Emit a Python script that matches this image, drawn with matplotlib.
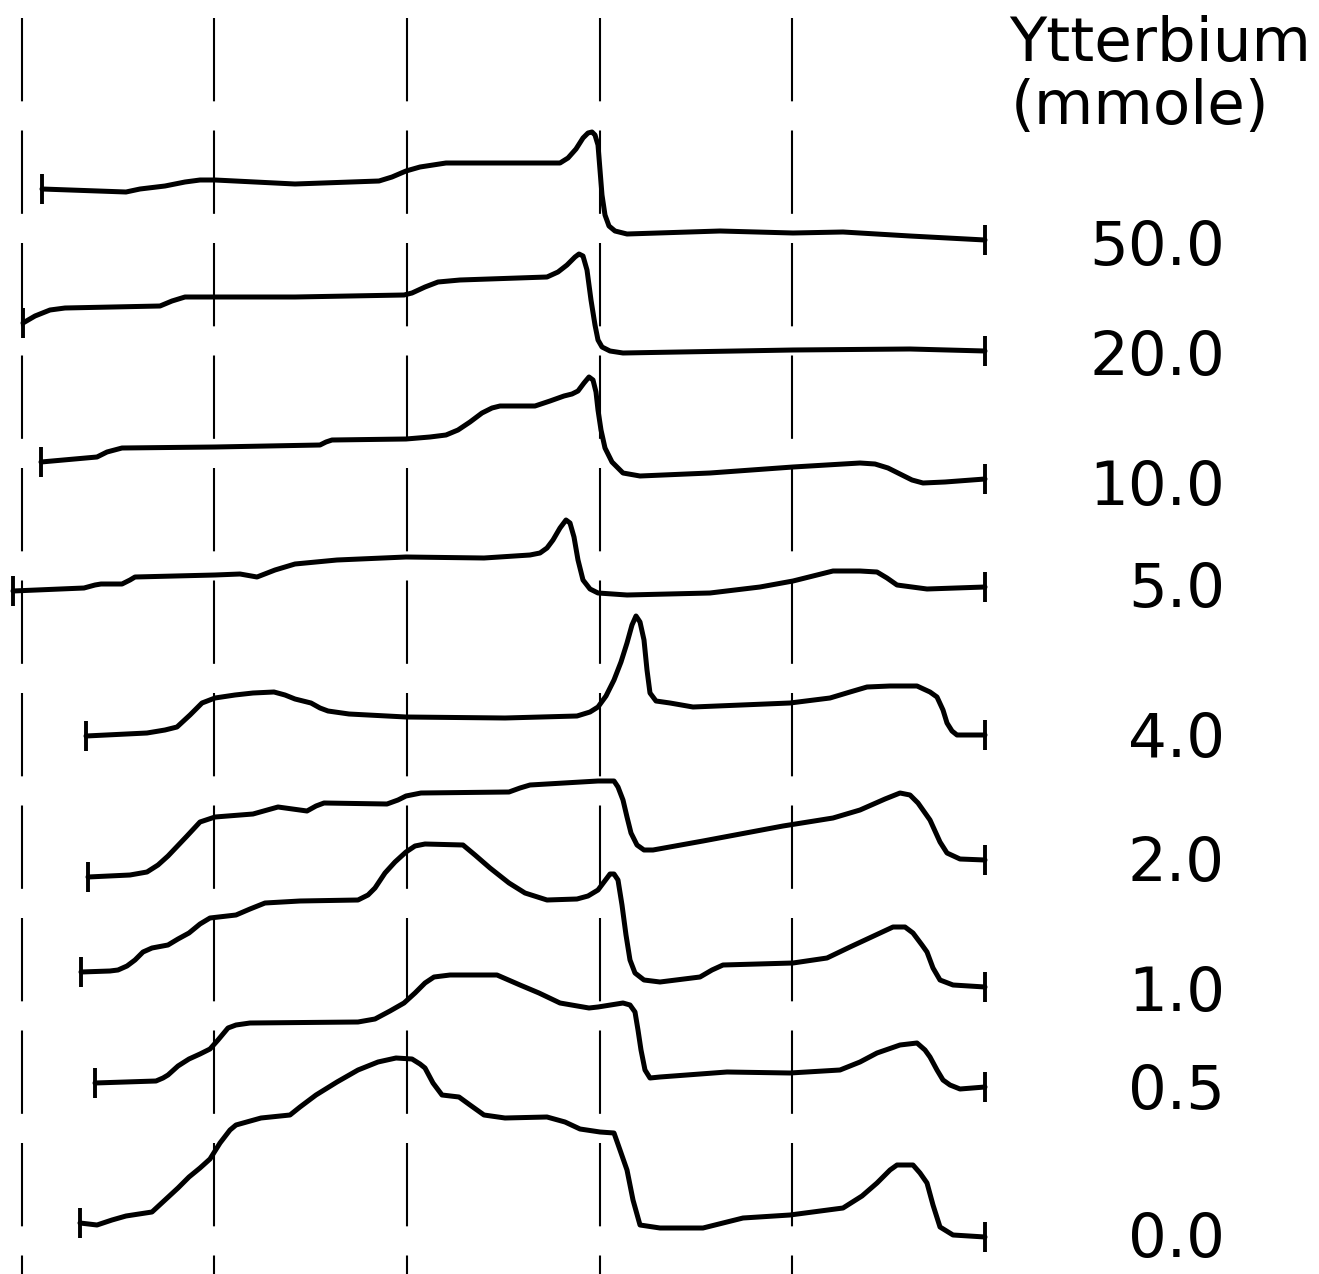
import matplotlib.pyplot as plt

# traces (pixel coords of the original figure, y grows downward)
x_50 = [42, 126, 140, 165, 185, 200, 215, 295, 379, 392, 406, 420, 446, 505, 560, 568, 576, 583, 588, 592, 595, 598, 600, 602, 605, 609, 615, 627, 720, 793, 843, 910, 985]
y_50 = [189, 192, 189, 186, 182, 180, 180, 184, 181, 177, 171, 167, 163, 163, 163, 158, 149, 138, 133, 132, 135, 145, 170, 195, 215, 226, 231, 234, 231, 233, 232, 236, 240]

x_20 = [23, 35, 50, 65, 160, 172, 185, 215, 295, 404, 412, 425, 438, 460, 547, 558, 567, 575, 579, 583, 587, 591, 595, 598, 602, 610, 623, 793, 910, 985]
y_20 = [323, 316, 310, 308, 306, 301, 297, 297, 297, 295, 293, 287, 282, 280, 277, 272, 265, 257, 254, 256, 270, 300, 325, 340, 347, 351, 353, 350, 349, 351]

x_10 = [41, 97, 107, 122, 215, 320, 326, 332, 406, 430, 446, 458, 470, 482, 492, 500, 535, 550, 564, 572, 578, 584, 589, 593, 596, 598, 601, 605, 612, 623, 640, 710, 793, 860, 875, 888, 900, 912, 923, 945, 985]
y_10 = [462, 457, 452, 448, 447, 445, 442, 440, 439, 437, 435, 430, 422, 413, 408, 406, 406, 401, 396, 394, 391, 383, 377, 380, 392, 410, 430, 448, 462, 473, 476, 473, 467, 463, 464, 468, 474, 480, 483, 482, 479]

x_5 = [13, 84, 95, 101, 122, 130, 135, 215, 240, 257, 275, 295, 337, 406, 484, 530, 540, 547, 553, 560, 566, 570, 574, 578, 583, 590, 598, 627, 710, 760, 793, 833, 860, 877, 887, 897, 927, 985]
y_5 = [591, 588, 585, 584, 584, 580, 577, 575, 574, 577, 570, 564, 560, 557, 558, 555, 553, 548, 540, 528, 520, 523, 537, 560, 580, 589, 593, 595, 593, 587, 581, 571, 571, 572, 578, 585, 589, 587]

x_4 = [86, 147, 165, 177, 190, 202, 215, 235, 253, 274, 285, 295, 311, 320, 328, 349, 406, 505, 577, 590, 598, 606, 614, 621, 627, 632, 636, 640, 644, 647, 650, 656, 670, 693, 790, 830, 850, 867, 890, 917, 930, 937, 943, 947, 952, 957, 985]
y_4 = [736, 733, 730, 727, 715, 703, 698, 695, 693, 692, 695, 699, 703, 708, 711, 714, 717, 718, 716, 712, 707, 696, 680, 662, 643, 625, 616, 622, 640, 670, 693, 701, 703, 707, 703, 698, 692, 687, 686, 686, 692, 697, 710, 723, 731, 735, 735]

x_2 = [88, 130, 147, 158, 168, 187, 200, 215, 253, 278, 307, 316, 324, 387, 398, 406, 421, 509, 520, 530, 598, 614, 618, 623, 627, 631, 637, 644, 653, 703, 783, 833, 860, 885, 900, 910, 918, 930, 940, 947, 960, 985]
y_2 = [877, 875, 872, 865, 856, 836, 822, 817, 814, 807, 811, 806, 803, 804, 800, 796, 793, 792, 788, 785, 781, 781, 787, 800, 817, 833, 845, 850, 850, 841, 826, 818, 810, 799, 793, 795, 803, 820, 842, 853, 859, 860]

x_1 = [81, 110, 118, 127, 135, 143, 152, 168, 178, 189, 200, 210, 236, 250, 265, 300, 358, 368, 375, 385, 395, 406, 415, 425, 463, 475, 490, 509, 525, 547, 577, 588, 598, 604, 610, 614, 618, 622, 626, 630, 635, 644, 660, 700, 712, 723, 793, 827, 850, 893, 905, 913, 922, 927, 933, 940, 953, 985]
y_1 = [972, 971, 970, 966, 960, 952, 948, 945, 939, 933, 924, 918, 915, 909, 903, 901, 900, 895, 888, 873, 862, 852, 846, 844, 845, 855, 868, 883, 893, 900, 899, 896, 890, 882, 874, 874, 880, 905, 935, 960, 973, 980, 982, 977, 970, 965, 963, 958, 947, 927, 927, 933, 945, 952, 968, 980, 985, 987]

x_05 = [95, 156, 163, 168, 178, 189, 200, 210, 218, 228, 236, 250, 358, 375, 390, 404, 415, 425, 434, 450, 497, 520, 539, 560, 589, 598, 623, 630, 635, 638, 641, 645, 650, 660, 727, 790, 840, 860, 877, 900, 917, 925, 930, 937, 943, 950, 960, 985]
y_05 = [1083, 1081, 1078, 1075, 1066, 1059, 1054, 1049, 1040, 1028, 1025, 1023, 1022, 1019, 1011, 1003, 993, 983, 977, 975, 975, 985, 993, 1003, 1008, 1007, 1003, 1005, 1012, 1030, 1050, 1070, 1078, 1077, 1072, 1073, 1070, 1062, 1053, 1045, 1043, 1050, 1057, 1070, 1080, 1085, 1089, 1087]

x_0 = [80, 97, 112, 126, 152, 165, 178, 189, 200, 210, 220, 230, 236, 261, 290, 300, 316, 337, 358, 378, 396, 412, 420, 425, 433, 442, 459, 470, 484, 505, 547, 565, 580, 600, 614, 620, 627, 633, 640, 660, 703, 743, 790, 843, 862, 877, 890, 897, 913, 920, 927, 933, 940, 953, 985]
y_0 = [1223, 1225, 1220, 1216, 1212, 1200, 1188, 1177, 1168, 1159, 1143, 1130, 1125, 1118, 1115, 1107, 1095, 1082, 1070, 1062, 1058, 1059, 1064, 1068, 1083, 1095, 1097, 1105, 1115, 1118, 1117, 1122, 1129, 1132, 1133, 1150, 1170, 1200, 1225, 1228, 1228, 1218, 1215, 1208, 1196, 1183, 1170, 1165, 1165, 1173, 1183, 1205, 1227, 1235, 1237]

traces = [(x_50, y_50), (x_20, y_20), (x_10, y_10), (x_5, y_5), (x_4, y_4),
          (x_2, y_2), (x_1, y_1), (x_05, y_05), (x_0, y_0)]

labels = ["50.0", "20.0", "10.0", "5.0", "4.0", "2.0", "1.0", "0.5", "0.0"]
label_y = [248, 358, 488, 591, 741, 865, 995, 1092, 1240]

grid_x = [22, 214, 407, 600, 792]

fig = plt.figure(figsize=(13.19, 12.74), dpi=100)
ax = fig.add_axes([0, 0, 1, 1])
ax.set_xlim(0, 1319)
ax.set_ylim(1274, 0)
ax.axis("off")

# dashed reference lines
ax.vlines(grid_x, 18, 1274, colors="black", linewidth=1.5,
          linestyles=(0, (40, 14)))

for xs, ys in traces:
    ax.plot(xs, ys, color="black", lw=3.6, solid_joinstyle="round",
            solid_capstyle="round")
    # end bars
    ax.plot([xs[0], xs[-1]], [ys[0], ys[-1]], ls="none", marker="|",
            markersize=22, markeredgewidth=2.8, color="black")

ax.text(1160, 45, "Ytterbium", fontsize=44, ha="center", va="center",
        family="DejaVu Sans")
ax.text(1140, 107, "(mmole)", fontsize=44, ha="center", va="center",
        family="DejaVu Sans")
for lab, yy in zip(labels, label_y):
    ax.text(1225, yy, lab, fontsize=44, ha="right", va="center",
            family="DejaVu Sans")

fig.savefig("out.png", dpi=100, facecolor="white")
